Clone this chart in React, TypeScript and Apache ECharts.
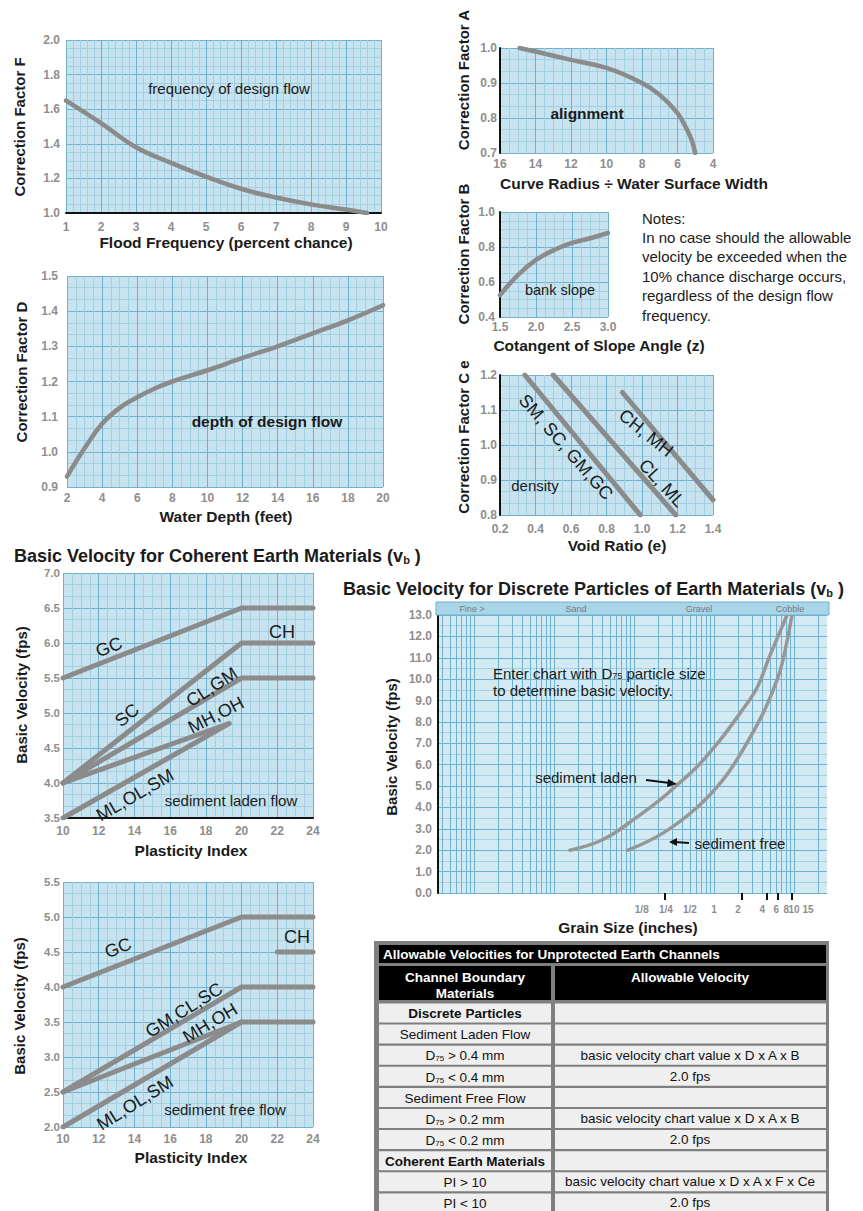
import React, { useEffect, useRef } from "react";
import * as echarts from "echarts";

const FONT = '"Liberation Sans", Arial, Helvetica, sans-serif';

// ---------------- data ----------------
const floodFreq = [1, 2, 3, 4, 5, 6, 7, 8, 9, 9.6];
const factorF = [1.65, 1.52, 1.38, 1.29, 1.21, 1.14, 1.09, 1.05, 1.02, 1.0];

const waterDepth = [2, 3, 4, 5, 6, 7, 8, 10, 12, 14, 16, 18, 20];
const factorD = [0.93, 1.01, 1.08, 1.125, 1.155, 1.18, 1.2, 1.232, 1.267, 1.3, 1.337, 1.374, 1.417];

const radiusRatio = [14.9, 14, 12, 10, 8, 7, 6, 5.5, 5.2, 5.0];
const factorA = [1.0, 0.99, 0.966, 0.943, 0.9, 0.866, 0.814, 0.77, 0.737, 0.7];

const slopeCot = [1.5, 1.75, 2.0, 2.25, 2.5, 2.75, 3.0];
const factorB = [0.525, 0.64, 0.726, 0.783, 0.823, 0.85, 0.88];

const voidSM = [0.34, 0.99];
const ceSM = [1.2, 0.8];
const voidCL = [0.5, 1.19];
const ceCL = [1.2, 0.8];
const voidCH = [0.89, 1.4];
const ceCH = [1.15, 0.843];

const piLadenGC = [10, 20, 24];
const vLadenGC = [5.5, 6.5, 6.5];
const piLadenCH = [10, 20, 24];
const vLadenCH = [4.0, 6.0, 6.0];
const piLadenCL = [10, 20, 24];
const vLadenCL = [4.0, 5.5, 5.5];
const piLadenMH = [10, 19.3];
const vLadenMH = [4.0, 4.85];
const piLadenML = [10, 19.3];
const vLadenML = [3.5, 4.85];

const piFreeGC = [10, 20, 24];
const vFreeGC = [4.0, 5.0, 5.0];
const piFreeCH = [22, 24];
const vFreeCH = [4.5, 4.5];
const piFreeGM = [10, 20, 24];
const vFreeGM = [2.5, 4.0, 4.0];
const piFreeMH = [10, 20, 24];
const vFreeMH = [2.5, 3.5, 3.5];
const piFreeML = [10, 20];
const vFreeML = [2.0, 3.5];

const grainLaden = [0.0158, 0.041, 0.109, 0.211, 0.345, 0.613, 1.19, 2.11, 3.45, 4.87, 6.31, 8.17];
const velLaden = [2.0, 2.5, 3.55, 4.35, 5.05, 5.9, 7.15, 8.4, 9.6, 11.0, 12.0, 13.0];
const grainFree = [0.084, 0.23, 0.613, 1.3, 2.3, 4.1, 6.13, 7.29, 9.44];
const velFree = [2.0, 2.8, 4.0, 5.3, 6.7, 8.4, 9.95, 10.9, 13.0];

const grainTicks = [0.125, 0.25, 0.5, 1, 2, 4, 6, 8, 10, 15];
const grainTickText = ["1/8", "1/4", "1/2", "1", "2", "4", "6", "8", "10", "15"];
const grainMarks = [0.244, 2.24, 4.6, 6.3, 9.4];
const grainClasses = ["Fine >", "Sand", "Gravel", "Cobble"];

const notesLines = [
  "Notes:",
  "In no case should the allowable",
  "velocity be exceeded when the",
  "10% chance discharge occurs,",
  "regardless of the design flow",
  "frequency.",
];

const tableTitle = "Allowable Velocities for Unprotected Earth Channels";
const tableCol1 = [
  "Discrete Particles",
  "Sediment Laden Flow",
  "D75 > 0.4 mm",
  "D75 < 0.4 mm",
  "Sediment Free Flow",
  "D75 > 0.2 mm",
  "D75 < 0.2 mm",
  "Coherent Earth Materials",
  "PI > 10",
  "PI < 10",
];
const tableCol2 = [
  "",
  "",
  "basic velocity chart value x D x A x B",
  "2.0 fps",
  "",
  "basic velocity chart value x D x A x B",
  "2.0 fps",
  "",
  "basic velocity chart value x D x A x F x Ce",
  "2.0 fps",
];
const tableBold = [true, false, false, false, false, false, false, true, false, false];

// ---------------- styling helpers ----------------
const BG = "#c6e3ef";
const MAJ = "#6fb2cf";
const MIN = "#a2d0e2";
const CURVE = "#8b8b8b";

const zip = (xs: number[], ys: number[]) => xs.map((x, i) => [x, ys[i]]);
const f1 = (v: number) => v.toFixed(1);
const f0 = (v: number) => String(Math.round(v));

function grid(left: number, top: number, width: number, height: number, bg = BG) {
  return { left, top, width, height, show: true, backgroundColor: bg, borderWidth: 0, containLabel: false };
}

function axis(gridIndex: number, o: any) {
  return {
    type: "value",
    gridIndex,
    min: o.min,
    max: o.max,
    interval: o.interval,
    inverse: !!o.inverse,
    position: o.position,
    axisLine: { show: !!o.black, onZero: false, lineStyle: { color: "#111", width: 2 } },
    axisTick: { show: false },
    axisLabel: {
      show: true,
      margin: o.margin ?? 6,
      color: "#8e8e8e",
      fontSize: o.labelSize ?? 12,
      fontWeight: "bold",
      fontFamily: FONT,
      formatter: o.fmt ?? f0,
    },
    splitLine: { show: true, lineStyle: { color: MAJ, width: 1 } },
    minorTick: { show: false, splitNumber: o.minor ?? 4 },
    minorSplitLine: { show: true, lineStyle: { color: MIN, width: 1 } },
  };
}

function curve(ai: number, xs: number[], ys: number[], smooth: number | boolean, width = 4.5, color = CURVE) {
  return {
    type: "line",
    xAxisIndex: ai,
    yAxisIndex: ai,
    data: zip(xs, ys),
    showSymbol: false,
    symbol: "none",
    smooth,
    silent: true,
    z: 3,
    lineStyle: { color, width, cap: "round" },
  };
}

function t(x: number, y: number, text: string, size: number, opts: any = {}) {
  const align = opts.align ?? "center";
  const va = opts.va ?? "middle";
  const style: any = {
    text,
    fill: opts.fill ?? "#1b1b1b",
    font: `${opts.bold ? "bold " : ""}${size}px ${FONT}`,
    align,
    verticalAlign: va,
    textAlign: align,
    textVerticalAlign: va,
  };
  if (opts.rich) style.rich = opts.rich;
  return {
    type: "text",
    x,
    y,
    rotation: ((opts.rot ?? 0) * Math.PI) / 180,
    z: 50,
    silent: true,
    style,
  };
}

function subRich(size: number, bold: boolean, fill: string) {
  return {
    m: { fontSize: size, fontWeight: bold ? "bold" : "normal", fontFamily: FONT, fill, lineHeight: size + 2, verticalAlign: "bottom" },
    s: { fontSize: Math.round(size * 0.6), fontWeight: bold ? "bold" : "normal", fontFamily: FONT, fill, lineHeight: 5, verticalAlign: "bottom" },
  };
}

function d75(text: string) {
  if (text.startsWith("D75")) return `{m|D}{s|75}{m|${text.slice(3)}}`;
  return `{m|${text}}`;
}

// ---------------- discrete axis ----------------
const LOGMIN = -3.45;
const LOGMAX = 1.4125;
const logGrid: number[] = [];
for (let k = -4; k <= 1; k++) {
  for (let m = 1; m <= 9; m++) {
    const v = Math.log10(m) + k;
    if (v > LOGMIN && v < LOGMAX) logGrid.push(v);
  }
}
const grainTickLog = grainTicks.map((g) => Math.log10(g));

function buildOption() {
  const grids = [
    grid(66, 40, 315, 173),
    grid(67, 276, 316, 211),
    grid(500, 48, 213, 105),
    grid(500, 212, 108, 105),
    grid(500, 375, 213, 140),
    grid(63, 573, 250, 245),
    grid(63, 882, 250, 245),
    grid(438, 615, 389, 278, "#d3eaf3"),
  ];

  const discreteX = {
    type: "value",
    gridIndex: 7,
    min: LOGMIN,
    max: LOGMAX,
    position: "bottom",
    axisLine: { show: false },
    axisTick: { show: false, customValues: logGrid },
    axisLabel: {
      show: true,
      customValues: grainTickLog,
      margin: 11,
      color: "#8e8e8e",
      fontSize: 10,
      fontWeight: "bold",
      fontFamily: FONT,
      formatter: (v: number) => {
        const i = grainTickLog.findIndex((g) => Math.abs(g - v) < 1e-6);
        return i >= 0 ? grainTickText[i] : "";
      },
    },
    splitLine: { show: true, lineStyle: { color: MAJ, width: 1 } },
    minorSplitLine: { show: false },
  };
  const discreteMarks = {
    type: "value",
    gridIndex: 7,
    min: LOGMIN,
    max: LOGMAX,
    position: "bottom",
    axisLine: { show: false },
    axisTick: { show: true, customValues: grainMarks.map((g) => Math.log10(g)), length: 7, inside: false, lineStyle: { color: "#111", width: 2 } },
    axisLabel: { show: false },
    splitLine: { show: false },
  };

  const xAxis = [
    axis(0, { min: 1, max: 10, interval: 1, black: true, margin: 8, minor: 5 }),
    axis(1, { min: 2, max: 20, interval: 2, margin: 5, minor: 4 }),
    axis(2, { min: 4, max: 16, interval: 2, inverse: true, margin: 5, minor: 4 }),
    axis(3, { min: 1.5, max: 3, interval: 0.5, margin: 4, fmt: f1, minor: 4 }),
    axis(4, { min: 0.2, max: 1.4, interval: 0.2, margin: 8, fmt: f1, minor: 4 }),
    axis(5, { min: 10, max: 24, interval: 2, black: true, margin: 7, minor: 4 }),
    axis(6, { min: 10, max: 24, interval: 2, margin: 6, minor: 4 }),
    discreteX,
    discreteMarks,
  ];
  const yAxis = [
    axis(0, { min: 1, max: 2, interval: 0.2, margin: 6, fmt: f1, minor: 4 }),
    axis(1, { min: 0.9, max: 1.5, interval: 0.1, margin: 9, fmt: f1, minor: 3 }),
    axis(2, { min: 0.7, max: 1.0, interval: 0.1, black: true, margin: 3, fmt: f1, minor: 3 }),
    axis(3, { min: 0.4, max: 1.0, interval: 0.2, black: true, margin: 5, fmt: f1, minor: 4 }),
    axis(4, { min: 0.8, max: 1.2, interval: 0.1, black: true, margin: 3, fmt: f1, minor: 3 }),
    axis(5, { min: 3.5, max: 7, interval: 0.5, margin: 3, fmt: f1, minor: 3, labelSize: 11.5 }),
    axis(6, { min: 2, max: 5.5, interval: 0.5, margin: 3, fmt: f1, minor: 3, labelSize: 11.5 }),
    axis(7, { min: 0, max: 13, interval: 1, black: true, margin: 6, fmt: f1, minor: 2 }),
  ];

  const series = [
    curve(0, floodFreq, factorF, 0.4),
    curve(1, waterDepth, factorD, 0.4),
    curve(2, radiusRatio, factorA, 0.4),
    curve(3, slopeCot, factorB, 0.4),
    curve(4, voidSM, ceSM, false, 5),
    curve(4, voidCL, ceCL, false, 5),
    curve(4, voidCH, ceCH, false, 5),
    curve(5, piLadenGC, vLadenGC, false, 5),
    curve(5, piLadenCH, vLadenCH, false, 5),
    curve(5, piLadenCL, vLadenCL, false, 5),
    curve(5, piLadenMH, vLadenMH, false, 5),
    curve(5, piLadenML, vLadenML, false, 5),
    curve(6, piFreeGC, vFreeGC, false, 5),
    curve(6, piFreeCH, vFreeCH, false, 5),
    curve(6, piFreeGM, vFreeGM, false, 5),
    curve(6, piFreeMH, vFreeMH, false, 5),
    curve(6, piFreeML, vFreeML, false, 5),
    curve(7, grainLaden.map((g) => Math.log10(g)), velLaden, 0.4, 3.5, "#979797"),
    curve(7, grainFree.map((g) => Math.log10(g)), velFree, 0.4, 3.5, "#979797"),
  ];

  const dark = "#1b1b1b";
  const graphics: any[] = [];
  // y axis names
  const yNames: [number, number, string][] = [
    [19, 127, "Correction Factor F"],
    [21, 372, "Correction Factor D"],
    [463, 80, "Correction Factor A"],
    [463, 254, "Correction Factor B"],
    [463, 437, "Correction Factor C e"],
    [21, 695, "Basic Velocity (fps)"],
    [19, 1006, "Basic Velocity (fps)"],
    [391, 747, "Basic Velocity (fps)"],
  ];
  yNames.forEach(([x, y, s]) => graphics.push(t(x, y, s, 15, { bold: true, rot: 90 })));
  const xNames: [number, number, string][] = [
    [226, 242, "Flood Frequency (percent chance)"],
    [226, 516, "Water Depth (feet)"],
    [634, 183, "Curve Radius \u00f7 Water Surface Width"],
    [599, 345, "Cotangent of Slope Angle (z)"],
    [617, 545, "Void Ratio (e)"],
    [191, 850, "Plasticity Index"],
    [191, 1157, "Plasticity Index"],
    [628, 927, "Grain Size (inches)"],
  ];
  xNames.forEach(([x, y, s]) => graphics.push(t(x, y, s, 15.5, { bold: true })));

  // in-chart annotations
  graphics.push(t(229, 88, "frequency of design flow", 15));
  graphics.push(t(267, 421, "depth of design flow", 15.5, { bold: true }));
  graphics.push(t(587, 113, "alignment", 15.5, { bold: true }));
  graphics.push(t(560, 290, "bank slope", 14.5));
  graphics.push(t(535, 485, "density", 15));
  graphics.push(t(566, 447, "SM, SC, GM,GC", 18, { rot: -49 }));
  graphics.push(t(662, 483, "CL, ML", 18, { rot: -47 }));
  graphics.push(t(646, 433, "CH, MH", 18, { rot: -39 }));

  graphics.push(t(109, 647, "GC", 18, { rot: 21 }));
  graphics.push(t(282, 632, "CH", 18));
  graphics.push(t(127, 715, "SC", 18, { rot: 40 }));
  graphics.push(t(212, 687, "CL,GM", 18, { rot: 33 }));
  graphics.push(t(216, 715, "MH,OH", 18, { rot: 27 }));
  graphics.push(t(135, 795, "ML,OL,SM", 18, { rot: 30 }));
  graphics.push(t(231, 800, "sediment laden flow", 15));

  graphics.push(t(118, 948, "GC", 18, { rot: 22 }));
  graphics.push(t(297, 937, "CH", 18));
  graphics.push(t(184, 1010, "GM,CL,SC", 18, { rot: 32 }));
  graphics.push(t(210, 1023, "MH,OH", 18, { rot: 31 }));
  graphics.push(t(135, 1103, "ML,OL,SM", 18, { rot: 32 }));
  graphics.push(t(225, 1109, "sediment free flow", 15));

  // titles
  graphics.push(
    t(14, 555, "{m|Basic Velocity for Coherent Earth Materials (v}{s|b}{m| )}", 18, {
      align: "left",
      rich: subRich(18, true, dark),
    })
  );
  graphics.push(
    t(343, 588, "{m|Basic Velocity for Discrete Particles of Earth Materials (v}{s|b}{m| )}", 18, {
      align: "left",
      rich: subRich(18, true, dark),
    })
  );

  // notes
  notesLines.forEach((line, i) => graphics.push(t(642, 218 + i * 19.4, line, 15, { align: "left" })));

  // discrete header band
  graphics.push({
    type: "rect",
    shape: { x: 436, y: 602, width: 393, height: 13 },
    style: { fill: "#a9d5e8", stroke: "#6fb2cf", lineWidth: 1 },
    z: 40,
    silent: true,
  });
  const classX = [472, 576, 699, 790];
  grainClasses.forEach((c, i) => graphics.push(t(classX[i], 609, c, 9, { fill: "#7a7a7a" })));

  graphics.push(
    t(493, 672, "{m|Enter chart with D}{s|75}{m| particle size}", 15, { align: "left", rich: subRich(15, false, dark) })
  );
  graphics.push(t(493, 690, "to determine basic velocity.", 15, { align: "left" }));
  graphics.push(t(586, 777, "sediment laden", 15));
  graphics.push(t(740, 843, "sediment free", 15));
  // arrows
  graphics.push({ type: "line", shape: { x1: 646, y1: 780, x2: 670, y2: 783 }, style: { stroke: "#111", lineWidth: 2 }, z: 50, silent: true });
  graphics.push({ type: "polygon", shape: { points: [[668, 779], [677, 784], [667, 787]] }, style: { fill: "#111" }, z: 50, silent: true });
  graphics.push({ type: "line", shape: { x1: 689, y1: 843, x2: 675, y2: 842 }, style: { stroke: "#111", lineWidth: 2 }, z: 50, silent: true });
  graphics.push({ type: "polygon", shape: { points: [[677, 838], [669, 842], [677, 846]] }, style: { fill: "#111" }, z: 50, silent: true });

  // table
  const tb: any[] = [];
  tb.push({ type: "rect", shape: { x: 374, y: 941, width: 455, height: 275 }, style: { fill: "#7f7f7f" }, silent: true });
  tb.push({ type: "rect", shape: { x: 379, y: 945, width: 447, height: 18 }, style: { fill: "#000" }, silent: true });
  tb.push({ type: "rect", shape: { x: 379, y: 966, width: 172, height: 34 }, style: { fill: "#000" }, silent: true });
  tb.push({ type: "rect", shape: { x: 555, y: 966, width: 271, height: 34 }, style: { fill: "#000" }, silent: true });
  tb.push(t(383, 954, tableTitle, 13.5, { bold: true, align: "left", fill: "#fff" }));
  tb.push(t(465, 977, "Channel Boundary", 13.5, { bold: true, fill: "#fff" }));
  tb.push(t(465, 993, "Materials", 13.5, { bold: true, fill: "#fff" }));
  tb.push(t(690, 977, "Allowable Velocity", 13.5, { bold: true, fill: "#fff" }));
  const y0 = 1003.5;
  const pitch = 21.1;
  tableCol1.forEach((c1, i) => {
    const y = y0 + i * pitch;
    tb.push({ type: "rect", shape: { x: 379, y, width: 172, height: 19 }, style: { fill: "#efefef" }, silent: true });
    tb.push({ type: "rect", shape: { x: 555, y, width: 271, height: 19 }, style: { fill: "#efefef" }, silent: true });
    const bold = tableBold[i];
    tb.push(t(465, y + 9.5, d75(c1), 13.5, { bold, rich: subRich(13.5, bold, "#111") }));
    if (tableCol2[i]) tb.push(t(690, y + 9.5, tableCol2[i], 13.5, { fill: "#111" }));
  });
  graphics.push({ type: "group", children: tb, z: 60 });

  return {
    animation: false,
    backgroundColor: "#ffffff",
    grid: grids,
    xAxis,
    yAxis,
    series,
    graphic: { elements: graphics },
  };
}

export default function App() {
  const ref = useRef<HTMLDivElement>(null);
  useEffect(() => {
    if (!ref.current) return;
    const chart = echarts.init(ref.current, null, { renderer: "svg", width: 863, height: 1211 });
    chart.setOption(buildOption() as any);
    return () => chart.dispose();
  }, []);
  return (
    <div
      ref={ref}
      style={{ position: "absolute", left: 0, top: 0, width: 863, height: 1211, background: "#fff" }}
    />
  );
}
